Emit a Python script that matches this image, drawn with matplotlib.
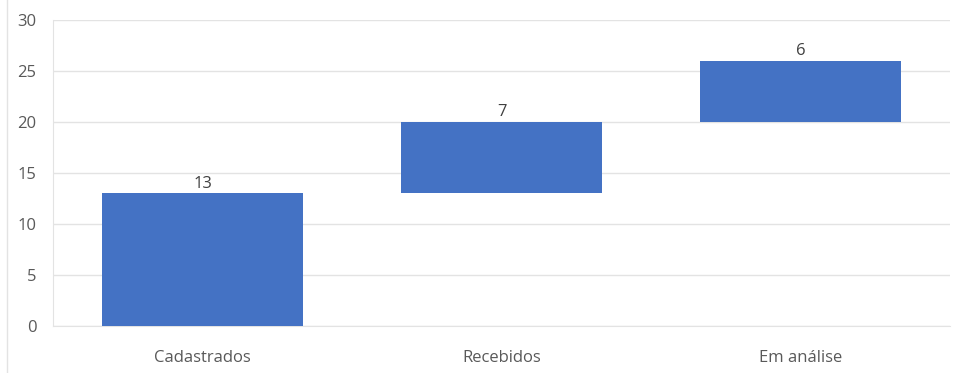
import matplotlib
matplotlib.use("Agg")
import matplotlib.pyplot as plt
import numpy as np

categories = ["Cadastrados", "Recebidos", "Em análise"]
values = [13, 7, 6]
y_ticks = [0, 5, 10, 15, 20, 25, 30]

bases = np.concatenate([[0], np.cumsum(values)[:-1]])

plt.rcParams['font.family'] = ['Open Sans', 'DejaVu Sans']
fig = plt.figure(figsize=(9.55, 3.73), dpi=100)
ax = fig.add_axes([53/955, 47/373, 897/955, 306/373])

x = np.arange(len(categories))
ax.bar(x, values, bottom=bases, width=0.67, color="#4472C4", zorder=3)
for xi, b, v in zip(x, bases, values):
    ax.text(xi, b + v + 0.15, str(v), ha="center", va="bottom", fontsize=12, color="#404040")

ax.set_xlim(-0.5, 2.5)
ax.set_ylim(0, 30)
ax.set_yticks(y_ticks)
ax.set_xticks(x)
ax.set_xticklabels(categories)
ax.grid(axis="y", color="#E3E3E3", linewidth=1.0, zorder=0)
for s in ["top", "right"]:
    ax.spines[s].set_visible(False)
ax.spines["left"].set_color("#E3E3E3")
ax.spines["bottom"].set_color("#E3E3E3")
ax.tick_params(axis="both", length=0, labelsize=12, labelcolor="#595959")
ax.tick_params(axis="y", pad=12)
ax.tick_params(axis="x", pad=17)

fig.add_artist(plt.Line2D([7/955, 7/955], [0, 1], color="#E3E3E3", linewidth=1.0, transform=fig.transFigure))

fig.savefig("out.png", dpi=100)
